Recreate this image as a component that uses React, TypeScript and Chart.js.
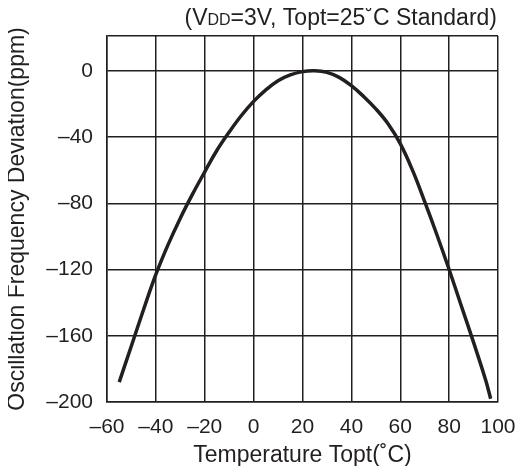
import React, { useEffect, useRef } from "react";
import { Chart, registerables } from "chart.js";

Chart.register(...registerables);

const TEMPS = [-55, -50, -45, -40, -35, -30, -25, -20, -15, -10, -5, 0, 5, 10, 15, 20, 25, 30, 35, 40, 45, 50, 55, 60, 65, 70, 75, 80, 85, 90, 95, 97];
const DEVIATION = [-188, -166, -144, -123, -105, -89, -74.5, -61, -48, -37, -27, -18.5, -11.5, -6, -2.5, -0.5, 0, -1, -4, -9, -15.5, -23, -32, -44, -60, -79, -99, -120, -142, -164, -187, -198];
const X_TICKS = [-60, -40, -20, 0, 20, 40, 60, 80, 100];
const Y_TICKS = [-200, -160, -120, -80, -40, 0];
const Y_TOP = 21;

const INK = "#231f20";
const FONT = "'Liberation Sans', Arial, Helvetica, sans-serif";

const fmt = (v: number) => (v < 0 ? "\u2013" + Math.abs(v) : String(v));

const notePlugin = {
  id: "note",
  afterDraw(chart: any) {
    const ctx = chart.ctx;
    const parts: [string, number][] = [
      ["(V", 23],
      ["DD", 16],
      ["=3V, Topt=25\u02daC Standard)", 23],
    ];
    ctx.save();
    ctx.fillStyle = INK;
    ctx.textBaseline = "alphabetic";
    ctx.textAlign = "left";
    let total = 0;
    for (const [t, s] of parts) {
      ctx.font = `${s}px ${FONT}`;
      total += ctx.measureText(t).width;
    }
    let x = 489 - total;
    const y = 17;
    for (const [t, s] of parts) {
      ctx.font = `${s}px ${FONT}`;
      ctx.fillText(t, x, y);
      x += ctx.measureText(t).width;
    }
    ctx.restore();
  },
};

export default function App() {
  const ref = useRef<HTMLCanvasElement>(null);
  useEffect(() => {
    if (!ref.current) return;
    const chart = new Chart(ref.current, {
      type: "line",
      data: {
        datasets: [
          {
            data: TEMPS.map((t, i) => ({ x: t, y: DEVIATION[i] })),
            borderColor: INK,
            borderWidth: 3.5,
            pointRadius: 0,
            tension: 0.4,
            fill: false,
          },
        ],
      },
      options: {
        animation: false,
        responsive: false,
        maintainAspectRatio: false,
        layout: { padding: { top: 28, right: 20, left: 0, bottom: 0 } },
        plugins: { legend: { display: false }, tooltip: { enabled: false } },
        scales: {
          x: {
            type: "linear",
            min: -60,
            max: 100,
            afterBuildTicks: (axis: any) => {
              axis.ticks = X_TICKS.map((v) => ({ value: v }));
            },
            afterFit: (axis: any) => {
              axis.height = 64;
              axis.paddingLeft = 0;
              axis.paddingRight = 0;
            },
            ticks: {
              autoSkip: false,
              maxRotation: 0,
              padding: 13,
              color: INK,
              font: { family: FONT, size: 21 },
              callback: (v: any) => fmt(Number(v)),
            },
            grid: { color: INK, lineWidth: 1.5, drawTicks: false },
            border: { color: INK, width: 1.5 },
            title: {
              display: true,
              text: "Temperature Topt(\u02daC)",
              color: INK,
              font: { family: FONT, size: 23, lineHeight: 1 },
              padding: { top: 0, bottom: -1 },
            },
          },
          y: {
            type: "linear",
            min: -200,
            max: Y_TOP,
            afterBuildTicks: (axis: any) => {
              axis.ticks = [...Y_TICKS, Y_TOP].map((v) => ({ value: v }));
            },
            afterFit: (axis: any) => {
              axis.width = 99;
              axis.paddingTop = 0;
              axis.paddingBottom = 0;
            },
            ticks: {
              autoSkip: false,
              padding: 14,
              color: INK,
              font: { family: FONT, size: 21 },
              callback: (v: any) => (Number(v) === Y_TOP ? "" : fmt(Number(v))),
            },
            grid: { color: INK, lineWidth: 1.5, drawTicks: false },
            border: { color: INK, width: 1.5 },
            title: {
              display: true,
              text: "Oscillation Frequency Deviation(ppm)",
              color: INK,
              font: { family: FONT, size: 23, lineHeight: 1 },
              padding: { top: -2, bottom: 0 },
            },
          },
        },
      },
      plugins: [notePlugin],
    } as any);
    return () => chart.destroy();
  }, []);
  return (
    <div style={{ width: 510, height: 458 }}>
      <canvas ref={ref} width={510} height={458} style={{ width: 510, height: 458 }} />
    </div>
  );
}
